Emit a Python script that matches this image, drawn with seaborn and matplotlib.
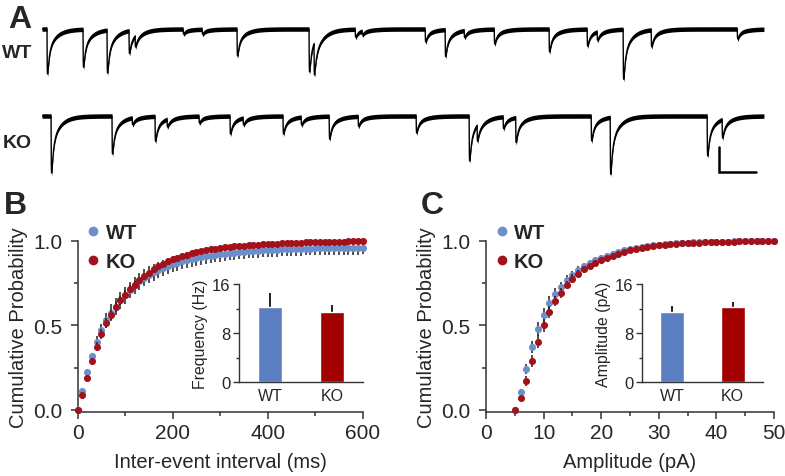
import numpy as np
import pandas as pd
import matplotlib
matplotlib.use('Agg')
import matplotlib.pyplot as plt
import seaborn as sns
from matplotlib.lines import Line2D
from matplotlib.ticker import MultipleLocator

sns.set_style('ticks')
plt.rcParams['font.family'] = ['Liberation Sans', 'DejaVu Sans']

# ---------------- data ----------------
# Panel A: spontaneous events (time in s, amplitude in pA)
wt_event_t = [0.027, 0.222, 0.352, 0.471, 0.504, 0.764, 0.867, 1.056, 1.446, 1.473,
              1.696, 1.733, 2.075, 2.183, 2.286, 2.449, 2.746, 2.952, 3.006, 3.147,
              3.299, 3.765]
wt_event_a = [18.0, 15.2, 17.2, 9.2, 4.5, 2.0, 2.0, 10.8, 17.2, 13.0,
              3.2, 1.6, 5.2, 10.8, 2.8, 6.0, 9.2, 6.8, 3.5, 20.0,
              6.8, 4.0]
ko_event_t = [0.049, 0.379, 0.488, 0.612, 0.677, 0.850, 1.018, 1.089, 1.305, 1.403,
              1.555, 1.712, 2.026, 2.313, 2.356, 2.497, 2.565, 2.974, 3.077, 3.602,
              3.683]
ko_event_a = [22.8, 15.2, 2.8, 10.0, 3.2, 2.8, 7.2, 2.8, 7.2, 3.2,
              9.2, 4.0, 6.8, 18.0, 6.5, 4.8, 10.0, 10.0, 22.8, 16.0,
              7.5]
scale_ms = 0.2   # s
scale_pA = 10.0  # pA

# Panel B: inter-event interval CDF
iei_ms = list(range(0, 601, 10))
iei_wt = [0.000, 0.115, 0.225, 0.320, 0.405, 0.475, 0.530, 0.575, 0.612, 0.648,
          0.680, 0.710, 0.738, 0.762, 0.783, 0.800, 0.815, 0.828, 0.840, 0.852,
          0.862, 0.871, 0.879, 0.886, 0.893, 0.899, 0.905, 0.910, 0.914, 0.918,
          0.922, 0.925, 0.928, 0.931, 0.934, 0.937, 0.939, 0.941, 0.943, 0.945,
          0.947, 0.948, 0.949, 0.950, 0.951, 0.952, 0.953, 0.954, 0.955, 0.955,
          0.956, 0.957, 0.957, 0.958, 0.958, 0.959, 0.959, 0.960, 0.960, 0.960,
          0.961]
iei_wt_sem = [0.000, 0.010, 0.015, 0.020, 0.030, 0.035, 0.045, 0.050, 0.050, 0.050,
              0.050, 0.050, 0.050, 0.050, 0.050, 0.050, 0.049, 0.049, 0.048, 0.048,
              0.047, 0.047, 0.046, 0.046, 0.045, 0.045, 0.045, 0.044, 0.044, 0.044,
              0.044, 0.043, 0.043, 0.043, 0.043, 0.042, 0.042, 0.042, 0.042, 0.042,
              0.041, 0.041, 0.041, 0.041, 0.041, 0.041, 0.041, 0.040, 0.040, 0.040,
              0.040, 0.040, 0.040, 0.040, 0.040, 0.040, 0.040, 0.040, 0.040, 0.040,
              0.040]
iei_ko = [0.000, 0.088, 0.190, 0.287, 0.375, 0.450, 0.515, 0.562, 0.608, 0.648,
          0.683, 0.714, 0.742, 0.767, 0.790, 0.812, 0.832, 0.850, 0.866, 0.879,
          0.891, 0.902, 0.912, 0.920, 0.928, 0.935, 0.941, 0.946, 0.951, 0.955,
          0.959, 0.962, 0.965, 0.968, 0.971, 0.973, 0.975, 0.977, 0.979, 0.981,
          0.983, 0.984, 0.985, 0.987, 0.988, 0.989, 0.990, 0.991, 0.992, 0.993,
          0.994, 0.995, 0.995, 0.996, 0.996, 0.997, 0.997, 0.998, 0.998, 0.999,
          1.000]
iei_ko_sem = [0.000, 0.010, 0.015, 0.020, 0.025, 0.030, 0.030, 0.030, 0.030, 0.028,
              0.025, 0.024, 0.022, 0.020, 0.019, 0.018, 0.017, 0.016, 0.015, 0.014,
              0.013, 0.012, 0.012, 0.011, 0.011, 0.010, 0.010, 0.010, 0.009, 0.009,
              0.009, 0.008, 0.008, 0.008, 0.008, 0.007, 0.007, 0.007, 0.007, 0.007,
              0.006, 0.006, 0.006, 0.006, 0.006, 0.006, 0.005, 0.005, 0.005, 0.005,
              0.005, 0.005, 0.005, 0.005, 0.005, 0.005, 0.005, 0.005, 0.005, 0.005,
              0.000]

# Panel C: amplitude CDF
amp_pA = list(range(5, 51))
amp_wt = [0.000, 0.109, 0.243, 0.372, 0.480, 0.563, 0.634, 0.688, 0.727, 0.767,
          0.796, 0.826, 0.850, 0.870, 0.885, 0.900, 0.914, 0.926, 0.937, 0.946,
          0.954, 0.961, 0.967, 0.972, 0.976, 0.979, 0.982, 0.985, 0.987, 0.989,
          0.990, 0.992, 0.993, 0.994, 0.995, 0.996, 0.997, 0.997, 0.998, 0.998,
          0.999, 0.999, 0.999, 1.000, 1.000, 1.000]
amp_wt_sem = [0.000, 0.015, 0.030, 0.035, 0.040, 0.040, 0.040, 0.035, 0.030, 0.030,
              0.025, 0.025, 0.020, 0.020, 0.018, 0.015, 0.013, 0.012, 0.010, 0.008,
              0.008, 0.007, 0.006, 0.006, 0.005, 0.005, 0.005, 0.004, 0.004, 0.004,
              0.003, 0.003, 0.003, 0.003, 0.002, 0.002, 0.002, 0.002, 0.002, 0.002,
              0.001, 0.001, 0.001, 0.000, 0.000, 0.000]
amp_ko = [0.000, 0.069, 0.170, 0.289, 0.405, 0.500, 0.579, 0.644, 0.694, 0.741,
          0.777, 0.806, 0.832, 0.852, 0.870, 0.886, 0.900, 0.913, 0.925, 0.935,
          0.944, 0.952, 0.959, 0.965, 0.970, 0.974, 0.978, 0.981, 0.984, 0.986,
          0.988, 0.990, 0.991, 0.993, 0.994, 0.995, 0.996, 0.997, 0.997, 0.998,
          0.998, 0.999, 0.999, 1.000, 1.000, 1.000]
amp_ko_sem = [0.000, 0.015, 0.030, 0.035, 0.040, 0.040, 0.035, 0.030, 0.030, 0.025,
              0.025, 0.020, 0.020, 0.018, 0.015, 0.013, 0.012, 0.010, 0.008, 0.008,
              0.007, 0.006, 0.006, 0.005, 0.005, 0.005, 0.004, 0.004, 0.004, 0.003,
              0.003, 0.003, 0.003, 0.002, 0.002, 0.002, 0.002, 0.002, 0.002, 0.001,
              0.001, 0.001, 0.001, 0.000, 0.000, 0.000]

# Insets
groups = ['WT', 'KO']
freq_hz = [12.3, 11.4]
freq_sem = [2.2, 1.2]
amp_mean = [11.5, 12.2]
amp_sem = [1.0, 0.9]

WT_DOT = '#6c8ecb'
KO_DOT = '#a3121a'
WT_BAR = '#5b7fc1'
KO_BAR = '#a30000'
ERR = '#202020'
SPINE = '#333333'

# ---------------- figure ----------------
W, H = 785, 477
fig = plt.figure(figsize=(W / 100, H / 100), dpi=100)


def rect(x0, y0, x1, y1):
    return [x0 / W, 1 - y1 / H, (x1 - x0) / W, (y1 - y0) / H]


# ---- Panel A traces ----
axA = fig.add_axes(rect(42, 0, 764, 180))
axA.set_xlim(0, 3.91)
axA.set_ylim(-72, 0)
axA.axis('off')
t = np.arange(0, 3.91, 0.0005)
tau_r = 0.0012
tau_fast, tau_slow, w_fast = 0.010, 0.045, 0.6


def kernel(d):
    k = (w_fast * np.exp(-d / tau_fast) + (1 - w_fast) * np.exp(-d / tau_slow))
    return k * (1 - np.exp(-d / tau_r))


_kk = kernel(np.arange(0, 0.05, 0.0001))
kmax = _kk.max()


def build(times, amps, base):
    y = np.full_like(t, base)
    for t0, a in zip(times, amps):
        d = t - t0
        m = d >= 0
        y[m] -= a * kernel(d[m]) / kmax
    return y


band = 0.9  # half-width of recording noise envelope (pA)
for tr in (build(wt_event_t, wt_event_a, -12.0), build(ko_event_t, ko_event_a, -46.8)):
    axA.fill_between(t, tr - band, tr + band, color='black', lw=0)
    sns.lineplot(x=t, y=tr, ax=axA, color='black', lw=1.0, estimator=None, sort=False)
sb_x, sb_y = 3.667, -69.2
axA.plot([sb_x, sb_x, sb_x + scale_ms], [sb_y + scale_pA, sb_y, sb_y],
         color='black', lw=1.8, solid_joinstyle='miter', clip_on=False)

fig.text(20 / W, 1 - 20 / H, 'A', fontsize=23, fontweight='bold', ha='center', va='center')
fig.text(17 / W, 1 - 54 / H, 'WT', fontsize=14, fontweight='bold', ha='center', va='center')
fig.text(17 / W, 1 - 144 / H, 'KO', fontsize=14, fontweight='bold', ha='center', va='center')
fig.text(15 / W, 1 - 206 / H, 'B', fontsize=23, fontweight='bold', ha='center', va='center')
fig.text(432 / W, 1 - 206 / H, 'C', fontsize=23, fontweight='bold', ha='center', va='center')


def style_main(ax, xmax, xmaj, xmin, xlabel):
    ax.set_xlim(0, xmax)
    ax.set_ylim(-0.012, 1.0)
    ax.xaxis.set_major_locator(MultipleLocator(xmaj))
    ax.xaxis.set_minor_locator(MultipleLocator(xmin))
    ax.set_yticks([0, 0.5, 1.0])
    ax.set_yticklabels(['0.0', '0.5', '1.0'])
    ax.yaxis.set_minor_locator(MultipleLocator(0.25))
    for s in ['top', 'right']:
        ax.spines[s].set_visible(False)
    for s in ['left', 'bottom']:
        ax.spines[s].set_color(SPINE)
        ax.spines[s].set_linewidth(1.1)
    ax.tick_params(which='major', direction='out', length=5, width=1.1,
                   color=SPINE, labelsize=15, pad=3)
    ax.tick_params(axis='y', which='major', pad=6)
    ax.tick_params(which='minor', direction='out', length=2.8, width=1.1, color=SPINE)
    ax.set_xlabel(xlabel, fontsize=14.5, labelpad=7)
    ax.set_ylabel('Cumulative Probability', fontsize=14.5, labelpad=4)
    handles = [Line2D([], [], ls='none', marker='o', ms=7, color=WT_DOT, mec='none'),
               Line2D([], [], ls='none', marker='o', ms=7, color=KO_DOT, mec='none')]
    ax.legend(handles, ['WT', 'KO'], loc='upper left', bbox_to_anchor=(0.034, 1.105),
              frameon=False, prop={'weight': 'bold', 'size': 14.5},
              handlelength=0.6, handletextpad=0.3, labelspacing=0.5,
              borderpad=0, borderaxespad=0)


def plot_cdf(ax, x, wt, wts, ko, kos):
    ax.errorbar(x, wt, yerr=wts, fmt='none', ecolor=ERR, elinewidth=1.1,
                capsize=0, zorder=2, clip_on=False)
    sns.scatterplot(x=x, y=wt, ax=ax, color=WT_DOT, s=26, linewidth=0,
                    zorder=3, clip_on=False)
    ax.errorbar(x, ko, yerr=kos, fmt='none', ecolor=ERR, elinewidth=1.1,
                capsize=0, zorder=4, clip_on=False)
    sns.scatterplot(x=x, y=ko, ax=ax, color=KO_DOT, s=26, linewidth=0,
                    zorder=5, clip_on=False)


axB = fig.add_axes(rect(77.7, 242, 362.7, 413))
plot_cdf(axB, iei_ms, iei_wt, iei_wt_sem, iei_ko, iei_ko_sem)
style_main(axB, 600, 200, 100, 'Inter-event interval (ms)')

axC = fig.add_axes(rect(486, 242, 774, 413))
plot_cdf(axC, amp_pA, amp_wt, amp_wt_sem, amp_ko, amp_ko_sem)
style_main(axC, 50, 10, 5, 'Amplitude (pA)')


def inset(r, vals, sems, ylabel):
    ax = fig.add_axes(r)
    df = pd.DataFrame({'group': groups, 'value': vals})
    sns.barplot(data=df, x='group', y='value', hue='group',
                palette=[WT_BAR, KO_BAR], width=0.4, errorbar=None,
                saturation=1, legend=False, ax=ax, zorder=2)
    ax.errorbar(groups, vals, yerr=[[0, 0], sems], fmt='none', ecolor=ERR,
                elinewidth=1.4, capsize=0, zorder=1)
    ax.set_ylim(0, 16)
    ax.set_yticks([0, 8, 16])
    ax.yaxis.set_minor_locator(MultipleLocator(4))
    ax.set_xlim(-0.5, 1.5)
    ax.patch.set_alpha(0)
    for s in ['top', 'right']:
        ax.spines[s].set_visible(False)
    for s in ['left', 'bottom']:
        ax.spines[s].set_color(SPINE)
        ax.spines[s].set_linewidth(1.0)
    ax.tick_params(axis='y', which='major', direction='out', length=4, width=1.0,
                   color=SPINE, labelsize=12, pad=2)
    ax.tick_params(axis='y', which='minor', direction='out', length=2.5, width=1.0,
                   color=SPINE)
    ax.tick_params(axis='x', length=0, labelsize=11.5, pad=4)
    ax.set_xlabel('')
    ax.set_ylabel(ylabel, fontsize=11.4, labelpad=3)
    return ax


inset(rect(239, 285, 363, 383.3), freq_hz, freq_sem, 'Frequency (Hz)')
inset(rect(641.7, 285, 763, 383.3), amp_mean, amp_sem, 'Amplitude (pA)')

fig.savefig('out.png', dpi=100)
